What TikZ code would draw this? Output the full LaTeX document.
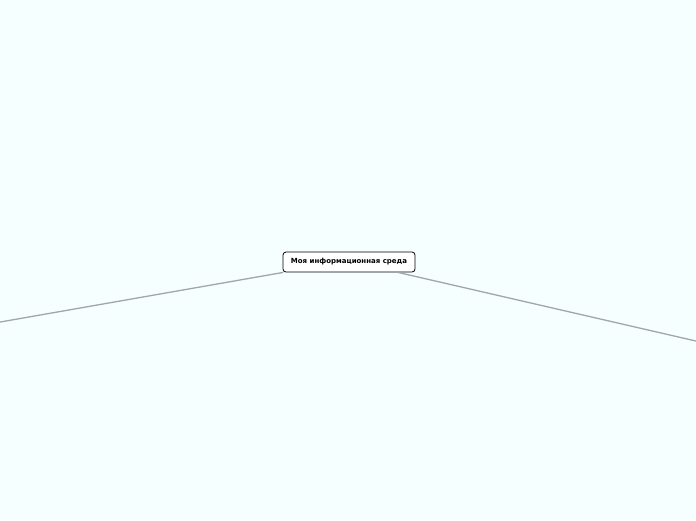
\documentclass[tikz,border=0pt]{standalone}
\usepackage{fontspec}
\setmainfont{DejaVu Sans}
\usepackage{tikz}
\definecolor{bgcyan}{HTML}{F5FFFF}
\definecolor{linkgray}{HTML}{A3A6A6}
\tikzstyle{topic} = [draw=black, fill=white, rectangle, rounded corners=3pt,
    line width=0.8pt, minimum height=20pt, minimum width=132pt,
    inner sep=0pt, font=\bfseries\fontsize{7}{8}\selectfont]
\tikzstyle{branch} = [draw=linkgray, line width=1.3pt]
\tikzstyle{edge} = [coordinate]

\begin{document}
\begin{tikzpicture}[x=1pt, y=-1pt]

	% Background
	\fill [bgcyan] (0,0) rectangle (696,520);
	\useasboundingbox (0,0) rectangle (696,520);

	% Central topic
	\node [topic] (topic) at (349,262) {Моя информационная среда};

	% Free ends of the branches
	\node [edge] (left) at (-2,322.4) {};
	\node [edge] (right) at (698,341.5) {};

	% Branches
	\draw [branch] (topic.189) -- (left);
	\draw [branch] (topic.-12) -- (right);
\end{tikzpicture}
\end{document}
